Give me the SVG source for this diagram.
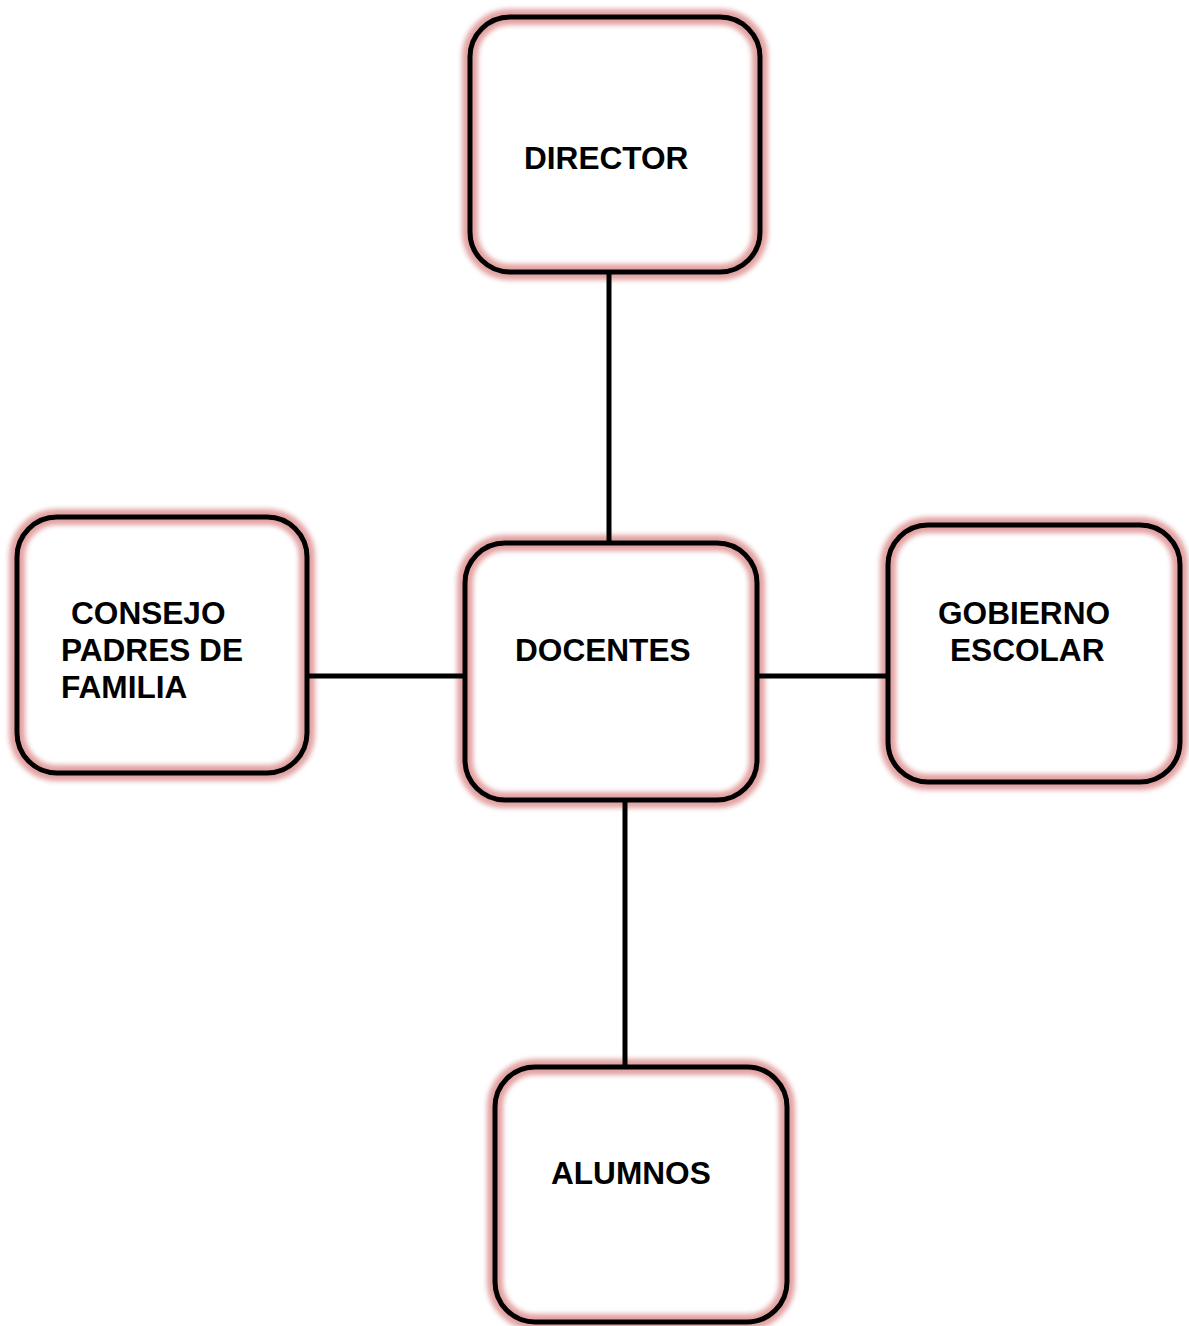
<svg xmlns="http://www.w3.org/2000/svg" width="1189" height="1326" viewBox="0 0 1189 1326">
<defs>
<filter id="glow" x="-10%" y="-10%" width="120%" height="120%">
<feGaussianBlur stdDeviation="2.5"/>
</filter>
</defs>
<style>
.glow{fill:none;stroke:#e3a2a2;stroke-width:16;filter:url(#glow)}
.box{fill:none;stroke:#000;stroke-width:5}
.lbl{font-family:"Liberation Sans",Arial,sans-serif;font-weight:bold;font-size:31.6px;fill:#000}
.conn{stroke:#000;stroke-width:5;fill:none}
</style>
<rect width="1189" height="1326" fill="#fff"/>
<g id="director">
<rect class="glow" x="470" y="17" width="290" height="255" rx="40"/>
<rect class="box" x="470" y="17" width="290" height="255" rx="40"/>
<text class="lbl" x="524" y="169">DIRECTOR</text>
</g>
<g id="consejo">
<rect class="glow" x="17" y="517" width="290" height="256" rx="40"/>
<rect class="box" x="17" y="517" width="290" height="256" rx="40"/>
<text class="lbl" x="71" y="624">CONSEJO</text>
<text class="lbl" x="61" y="661">PADRES DE</text>
<text class="lbl" x="61" y="698">FAMILIA</text>
</g>
<g id="docentes">
<rect class="glow" x="465" y="543" width="292" height="257" rx="40"/>
<rect class="box" x="465" y="543" width="292" height="257" rx="40"/>
<text class="lbl" x="515" y="661">DOCENTES</text>
</g>
<g id="gobierno">
<rect class="glow" x="888" y="525" width="292" height="257" rx="40"/>
<rect class="box" x="888" y="525" width="292" height="257" rx="40"/>
<text class="lbl" x="938" y="624">GOBIERNO</text>
<text class="lbl" x="950" y="661">ESCOLAR</text>
</g>
<g id="alumnos">
<rect class="glow" x="495" y="1067" width="292" height="255" rx="40"/>
<rect class="box" x="495" y="1067" width="292" height="255" rx="40"/>
<text class="lbl" x="551" y="1184">ALUMNOS</text>
</g>
<g id="connectors">
<line class="conn" x1="609" y1="272" x2="609" y2="543"/>
<line class="conn" x1="307" y1="676" x2="465" y2="676"/>
<line class="conn" x1="757" y1="676" x2="888" y2="676"/>
<line class="conn" x1="625" y1="800" x2="625" y2="1067"/>
</g>
</svg>
